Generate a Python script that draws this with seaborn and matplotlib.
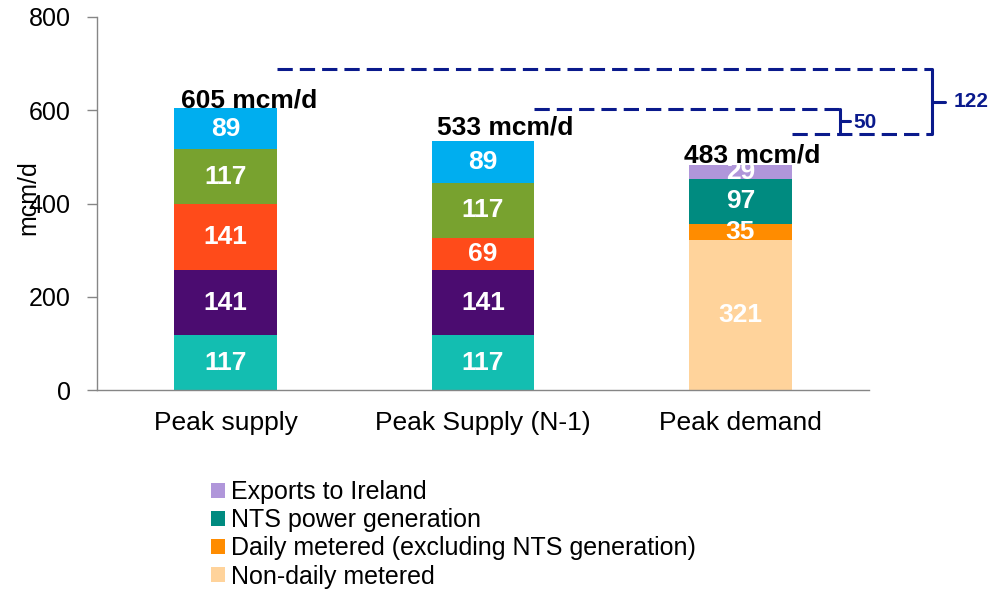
import matplotlib
matplotlib.use("Agg")
import matplotlib.pyplot as plt
import seaborn as sns
import numpy as np
from matplotlib.patches import Patch

# ---------------- data ----------------
categories = ["Peak supply", "Peak Supply (N-1)", "Peak demand"]
peak_supply = [117, 141, 141, 117, 89]
peak_supply_n1 = [117, 141, 69, 117, 89]
peak_demand = [321, 35, 97, 29]
total_labels = ["605 mcm/d", "533 mcm/d", "483 mcm/d"]
demand_names = ["Non-daily metered", "Daily metered (excluding NTS generation)",
                "NTS power generation", "Exports to Ireland"]
gap_labels = ["122", "50"]
y_ticks = [0, 200, 400, 600, 800]

supply_colors = ["#13BEB1", "#4B0C70", "#FF4B1A", "#78A22F", "#00AEEF"]
demand_colors = ["#FFD39B", "#FF8C00", "#008B80", "#B096DA"]
bracket_color = "#0A1A8C"

# ---------------- style ----------------
sns.set_style("white")
plt.rcParams["font.family"] = ["Liberation Sans", "DejaVu Sans"]
for k in ["text.color", "axes.labelcolor", "xtick.labelcolor", "ytick.labelcolor"]:
    plt.rcParams[k] = "black"
FS = 18
FSB = 19

fig = plt.figure(figsize=(9.97, 5.9), dpi=100)
ax = fig.add_axes([97 / 997, 200 / 590, 772 / 997, 373 / 590])

stacks = [peak_supply, peak_supply_n1, peak_demand]
stack_colors = [supply_colors, supply_colors, demand_colors]
n_layers = max(len(s) for s in stacks)
bottoms = np.zeros(len(categories))
for i in range(n_layers):
    vals = np.array([s[i] if i < len(s) else 0 for s in stacks], dtype=float)
    sns.barplot(x=categories, y=vals, order=categories, bottom=bottoms.copy(),
                width=0.4, color="gray", saturation=1, errorbar=None, ax=ax,
                linewidth=0)
    cont = ax.containers[-1]
    for j, patch in enumerate(cont.patches):
        if i < len(stacks[j]):
            patch.set_facecolor(stack_colors[j][i])
            ax.text(j, bottoms[j] + vals[j] / 2, f"{int(vals[j])}", ha="center",
                    va="center", color="white", fontsize=FSB, fontweight="bold")
        else:
            patch.set_visible(False)
    bottoms += vals

# total labels
label_dx = [0.09, 0.085, 0.045]
label_dy = [1, 14, 7]
for j, lab in enumerate(total_labels):
    ax.text(j + label_dx[j], bottoms[j] + label_dy[j], lab, ha="center",
            va="baseline", fontsize=FSB, fontweight="bold", color="black")

# axes styling
ax.set_xlim(-0.5, 2.5)
ax.set_ylim(0, 800)
ax.set_yticks(y_ticks)
ax.set_xticks(range(len(categories)))
ax.set_xticklabels(categories, fontsize=FSB)
ax.set_xticks([-0.5, 0.5, 1.5, 2.5], minor=True)
ax.tick_params(axis="x", which="major", length=0, pad=15)
ax.tick_params(axis="x", which="minor", length=7, direction="out", color="#868686", width=1)
ax.tick_params(axis="y", length=7, direction="out", color="#868686", width=1,
               labelsize=FS, pad=12, left=True)
ax.set_xlabel("")
ax.set_ylabel("mcm/d", fontsize=FS)
ax.yaxis.set_label_coords(-0.074, 0.515)
for s in ["top", "right"]:
    ax.spines[s].set_visible(False)
for s in ["left", "bottom"]:
    ax.spines[s].set_color("#868686")
    ax.spines[s].set_linewidth(1)

# gap brackets (annotation)
lw = 2.2
y_top, y_mid, y_bot = 688, 603, 549
dash = (5, 2.3)
ax.plot([0.2, 2.744], [y_top, y_top], color=bracket_color, lw=lw, dashes=dash, clip_on=False)
ax.plot([1.2, 2.387], [y_mid, y_mid], color=bracket_color, lw=lw, dashes=dash, clip_on=False)
ax.plot([2.2, 2.744], [y_bot, y_bot], color=bracket_color, lw=lw, dashes=dash, clip_on=False)
# big bracket
ax.plot([2.744, 2.744], [y_top, y_bot], color=bracket_color, lw=lw, clip_on=False,
        solid_capstyle="round")
ax.plot([2.744, 2.795], [(y_top + y_bot) / 2] * 2, color=bracket_color, lw=lw, clip_on=False)
ax.text(2.83, (y_top + y_bot) / 2, gap_labels[0], ha="left", va="center",
        fontsize=15, fontweight="bold", color=bracket_color, clip_on=False)
# small bracket
ax.plot([2.387, 2.387], [y_mid, y_bot], color=bracket_color, lw=lw, clip_on=False,
        solid_capstyle="round")
ax.plot([2.387, 2.426], [(y_mid + y_bot) / 2] * 2, color=bracket_color, lw=lw, clip_on=False)
ax.text(2.44, (y_mid + y_bot) / 2 - 2, gap_labels[1], ha="left", va="center",
        fontsize=15, fontweight="bold", color=bracket_color, clip_on=False)

# legend (demand components, reversed)
handles = [Patch(facecolor=c, edgecolor="none") for c in demand_colors][::-1]
labels = demand_names[::-1]
fig.legend(handles, labels, loc="upper left", bbox_to_anchor=(211 / 997, 1 - 480 / 590),
           frameon=False, fontsize=FS, handlelength=0.55, handleheight=0.55,
           handletextpad=0.25, labelspacing=0.17, borderpad=0, borderaxespad=0)

fig.savefig("out.png", dpi=100)
